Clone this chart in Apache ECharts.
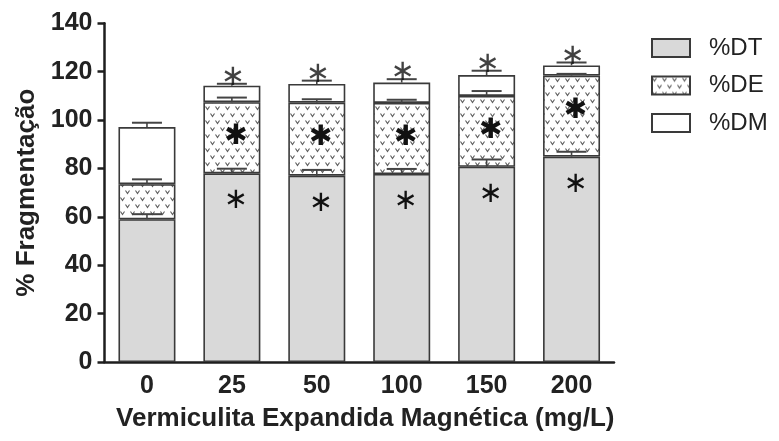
<!DOCTYPE html>
<html>
<head>
<meta charset="utf-8">
<script src="https://cdn.jsdelivr.net/npm/echarts@6/dist/echarts.min.js"></script>
<style>
  html, body { margin: 0; padding: 0; background: #ffffff; }
  #chart { width: 779px; height: 441px; }
</style>
</head>
<body>
<div id="chart"></div>
<script>
// Concentrations of magnetic expanded vermiculite (mg/L)
const categories = ['0', '25', '50', '100', '150', '200'];

// Stacked fragmentation components: segment heights (%) and SD
const dtValues = [59.0, 78.0, 77.0, 77.7, 80.7, 84.9];
const dtSd     = [2.1, 1.9, 2.4, 2.1, 3.0, 2.0];
const deValues = [14.5, 29.4, 30.2, 29.4, 29.3, 33.5];
const deSd     = [2.0, 1.9, 1.4, 1.3, 2.0, 0.7];
const dmValues = [23.6, 6.8, 7.7, 8.4, 8.6, 4.2];
const dmSd     = [1.8, 0.8, 1.4, 1.4, 1.8, 1.2];

// Significance markers per concentration
const dtSig    = ['', '∗', '∗', '∗', '∗', '∗'];
const deSig    = ['', '✱', '✱', '✱', '✱', '✱'];
const totalSig = ['', '∗', '∗', '∗', '∗', '∗'];

const yTicks = { min: 0, max: 140, interval: 20 };

// Dotted "v" texture used for the %DE segments
function makeTexture() {
  const c = document.createElement('canvas');
  c.width = 10; c.height = 14;
  const g = c.getContext('2d');
  g.fillStyle = '#ffffff';
  g.fillRect(0, 0, 10, 14);
  g.strokeStyle = '#5a5a5a';
  g.lineWidth = 1.1;
  function mark(x, y) {
    g.beginPath();
    g.moveTo(x - 2, y - 1.5);
    g.lineTo(x, y + 1.5);
    g.lineTo(x + 2, y - 1.5);
    g.stroke();
  }
  mark(2.5, 3);
  mark(7.5, 10);
  return c;
}

const edge = '#3a3a3a';
const stackTops = categories.map((_, i) => ({
  dt: dtValues[i],
  de: dtValues[i] + deValues[i],
  dm: dtValues[i] + deValues[i] + dmValues[i]
}));

// Upper error whiskers at each stacked segment top
const errData = [];
categories.forEach((c, i) => {
  errData.push([i, stackTops[i].dt, dtSd[i]]);
  errData.push([i, stackTops[i].de, deSd[i]]);
  errData.push([i, stackTops[i].dm, dmSd[i]]);
});

const chart = echarts.init(document.getElementById('chart'));
const font = 'Liberation Sans, Arial, sans-serif';
const starFont = 'DejaVu Sans, sans-serif';

chart.setOption({
  backgroundColor: '#ffffff',
  animation: false,
  grid: { left: 104.5, right: 165, top: 23.3, bottom: 79 },
  legend: {
    orient: 'vertical',
    left: 651,
    top: 36,
    padding: 0,
    itemWidth: 38,
    itemHeight: 18,
    itemGap: 13.5,
    icon: 'rect',
    textStyle: { fontFamily: font, fontSize: 24, color: '#222', padding: [0, 0, 0, 14] },
    data: ['%DT', '%DE', '%DM']
  },
  xAxis: {
    type: 'category',
    data: categories,
    name: 'Vermiculita Expandida Magnética (mg/L)',
    nameLocation: 'middle',
    nameGap: 44,
    nameTextStyle: { fontFamily: font, fontSize: 26, fontWeight: 'bold', color: '#222', padding: [0, 0, 0, 12] },
    axisLine: { lineStyle: { color: '#1e1e1e', width: 2.5 } },
    axisTick: { alignWithLabel: true, length: 7, lineStyle: { color: '#1e1e1e', width: 2.5 } },
    axisLabel: { fontFamily: font, fontSize: 25, fontWeight: 'bold', color: '#222', margin: 12 }
  },
  yAxis: {
    type: 'value',
    min: yTicks.min,
    max: yTicks.max,
    interval: yTicks.interval,
    name: '% Fragmentação',
    nameLocation: 'middle',
    nameGap: 62,
    nameRotate: 90,
    nameTextStyle: { fontFamily: font, fontSize: 26, fontWeight: 'bold', color: '#222' },
    axisLine: { show: true, lineStyle: { color: '#1e1e1e', width: 2.5 } },
    axisTick: { show: true, length: 7, lineStyle: { color: '#1e1e1e', width: 2.5 } },
    splitLine: { show: false },
    axisLabel: { fontFamily: font, fontSize: 25, fontWeight: 'bold', color: '#222', margin: 12 }
  },
  series: [
    {
      name: '%DT', type: 'bar', stack: 'frag', barWidth: 57,
      data: dtValues,
      itemStyle: { color: '#d9d9d9', borderColor: edge, borderWidth: 1.6 },
      label: {
        show: true, position: 'insideTop', distance: 13, offset: [4, 0],
        formatter: p => dtSig[p.dataIndex],
        fontFamily: starFont, fontSize: 29, color: '#111'
      }
    },
    {
      name: '%DE', type: 'bar', stack: 'frag', barWidth: 57,
      data: deValues,
      itemStyle: { color: { image: makeTexture(), repeat: 'repeat' }, borderColor: edge, borderWidth: 1.6 },
      label: {
        show: true, position: 'insideTop', distance: 21, offset: [4, 0],
        formatter: p => deSig[p.dataIndex],
        fontFamily: starFont, fontSize: 28, color: '#111'
      }
    },
    {
      name: '%DM', type: 'bar', stack: 'frag', barWidth: 57,
      data: dmValues,
      itemStyle: { color: '#ffffff', borderColor: edge, borderWidth: 1.6 }
    },
    {
      name: 'errors', type: 'custom', z: 5,
      data: errData,
      renderItem: function (params, api) {
        const x = api.value(0);
        const top = api.value(1);
        const sd = api.value(2);
        const base = api.coord([x, top]);
        const hi = api.coord([x, top + sd]);
        const half = 15;
        return {
          type: 'group',
          children: [
            { type: 'line', shape: { x1: base[0], y1: base[1], x2: hi[0], y2: hi[1] },
              style: { stroke: '#444', lineWidth: 1.6 } },
            { type: 'line', shape: { x1: hi[0] - half, y1: hi[1], x2: hi[0] + half, y2: hi[1] },
              style: { stroke: '#444', lineWidth: 2 } }
          ]
        };
      }
    },
    {
      name: 'sigTotal', type: 'scatter', symbolSize: 0, z: 6,
      data: categories.map((c, i) => [i, stackTops[i].dm + dmSd[i]]),
      label: {
        show: true, position: 'top', distance: -8, offset: [1, 0],
        formatter: p => totalSig[p.dataIndex],
        fontFamily: starFont, fontSize: 29, color: '#111'
      }
    }
  ]
});
</script>
</body>
</html>
